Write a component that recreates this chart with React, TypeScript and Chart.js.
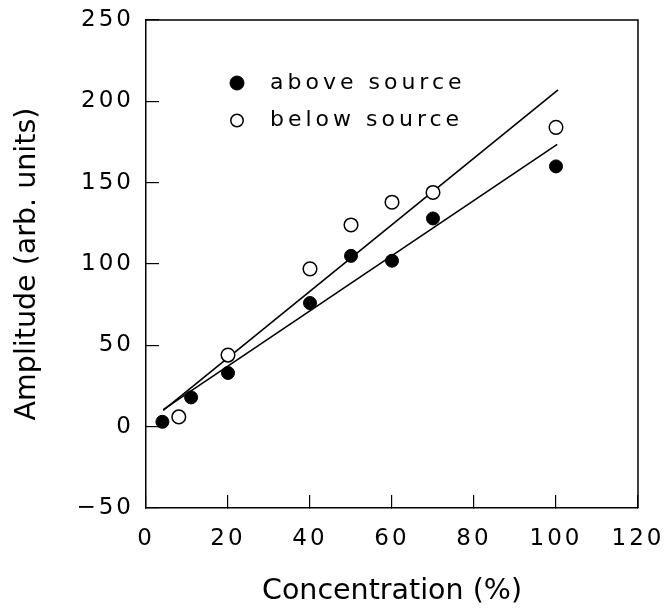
import React, { useEffect, useRef } from 'react';
import { Chart, registerables } from 'chart.js';

Chart.register(...registerables);

// ---- data ----
const aboveX = [4, 11, 20, 40, 50, 60, 70, 100];
const aboveY = [3, 18, 33, 76, 105, 102, 128, 160];
const belowX = [8, 20, 40, 50, 60, 70, 100];
const belowY = [6, 44, 97, 124, 138, 144, 184];
const aboveFitX = [4.2, 100.3];
const aboveFitY = [10.5, 173.5];
const belowFitX = [4.2, 100.5];
const belowFitY = [10, 207];
const seriesLabels = ['above source', 'below source'];
const xTitle = 'Concentration (%)';
const yTitle = 'Amplitude (arb. units)';
const xMin = 0;
const xMax = 120;
const xStep = 20;
const yMin = -50;
const yMax = 250;
const yStep = 50;

const FONT = 'DejaVu Sans';

const toPoints = (xs: number[], ys: number[]) => xs.map((x, i) => ({ x, y: ys[i] }));

const zeroPadding = (s: any) => {
  s.paddingLeft = 0;
  s.paddingRight = 0;
  s.paddingTop = 0;
  s.paddingBottom = 0;
};

const framePlugin = {
  id: 'frameAndLegend',
  beforeDraw(chart: any) {
    (chart.ctx as any).letterSpacing = '0px';
  },
  afterDatasetsDraw(chart: any) {
    // tick labels (z = 1) are drawn after this hook
    (chart.ctx as any).letterSpacing = '3px';
  },
  afterDraw(chart: any) {
    const ctx = chart.ctx as CanvasRenderingContext2D & { letterSpacing?: string };
    const ca = chart.chartArea;
    ctx.save();
    ctx.letterSpacing = '0px';
    // top and right edges of the frame
    ctx.strokeStyle = '#000';
    ctx.lineWidth = 1.5;
    ctx.beginPath();
    ctx.moveTo(ca.left, ca.top);
    ctx.lineTo(ca.right, ca.top);
    ctx.lineTo(ca.right, ca.bottom);
    ctx.stroke();

    // legend inside the plot
    const markerX = ca.left + 91;
    const textX = ca.left + 124;
    const firstY = ca.top + 63;
    const gap = 37.5;
    ctx.font = `22px "${FONT}"`;
    ctx.textBaseline = 'alphabetic';
    ctx.textAlign = 'left';
    [0, 1].forEach((di, row) => {
      const ds = chart.data.datasets[di];
      const cy = firstY + row * gap;
      ctx.beginPath();
      ctx.arc(markerX, cy, row === 0 ? 7 : 6.2, 0, Math.PI * 2);
      ctx.fillStyle = ds.pointBackgroundColor;
      ctx.fill();
      ctx.lineWidth = ds.pointBorderWidth;
      ctx.strokeStyle = ds.pointBorderColor;
      ctx.stroke();
      ctx.fillStyle = '#000';
      ctx.letterSpacing = '4px';
      ctx.fillText(ds.label, textX, cy + 5.8);
      ctx.letterSpacing = '0px';
    });
    ctx.restore();
  },
};

export default function App() {
  const ref = useRef<HTMLCanvasElement | null>(null);

  useEffect(() => {
    if (!ref.current) return;
    const chart = new Chart(ref.current, {
      type: 'scatter',
      data: {
        datasets: [
          {
            label: seriesLabels[0],
            data: toPoints(aboveX, aboveY),
            pointRadius: 6.5,
            pointBackgroundColor: '#000',
            pointBorderColor: '#000',
            pointBorderWidth: 1,
            showLine: false,
          },
          {
            label: seriesLabels[1],
            data: toPoints(belowX, belowY),
            pointRadius: 6.8,
            pointBackgroundColor: '#fff',
            pointBorderColor: '#000',
            pointBorderWidth: 1.5,
            showLine: false,
          },
          {
            label: 'fit above',
            data: toPoints(aboveFitX, aboveFitY),
            showLine: true,
            pointRadius: 0,
            borderColor: '#000',
            borderWidth: 1.6,
            fill: false,
          },
          {
            label: 'fit below',
            data: toPoints(belowFitX, belowFitY),
            showLine: true,
            pointRadius: 0,
            borderColor: '#000',
            borderWidth: 1.6,
            fill: false,
          },
        ],
      } as any,
      options: {
        responsive: false,
        animation: false,
        devicePixelRatio: 1,
        layout: { padding: { left: 0, top: 20, right: 28, bottom: 0 } },
        plugins: {
          legend: { display: false },
          tooltip: { enabled: false },
        },
        scales: {
          x: {
            type: 'linear',
            position: 'bottom',
            min: xMin,
            max: xMax,
            ticks: {
              stepSize: xStep,
              padding: 30,
              color: '#000',
              font: { family: FONT, size: 23 },
              z: 1,
              maxRotation: 0,
              autoSkip: false,
            },
            grid: {
              display: true,
              drawOnChartArea: false,
              drawTicks: true,
              tickLength: -13,
              color: '#000',
              lineWidth: 1.2,
            },
            border: { display: true, color: '#000', width: 1.5 },
            title: {
              display: true,
              text: xTitle,
              color: '#000',
              font: { family: FONT, size: 28.5 },
              padding: { top: 0, bottom: 0 },
            },
            afterFit: (s: any) => {
              s.height = 101;
              zeroPadding(s);
            },
          },
          y: {
            type: 'linear',
            position: 'left',
            min: yMin,
            max: yMax,
            ticks: {
              stepSize: yStep,
              padding: 25,
              color: '#000',
              font: { family: FONT, size: 23 },
              z: 1,
              autoSkip: false,
              callback: (v: any) => String(v).replace('-', '\u2212'),
            },
            grid: {
              display: true,
              drawOnChartArea: false,
              drawTicks: true,
              tickLength: -13,
              color: '#000',
              lineWidth: 1.2,
            },
            border: { display: true, color: '#000', width: 1.5 },
            title: {
              display: true,
              text: yTitle,
              color: '#000',
              font: { family: FONT, size: 28.5 },
              padding: { top: 10, bottom: 0 },
            },
            afterFit: (s: any) => {
              s.width = 146;
              zeroPadding(s);
            },
          },
        },
      } as any,
      plugins: [framePlugin],
    });
    return () => chart.destroy();
  }, []);

  return (
    <div style={{ position: 'fixed', left: 0, top: 0, width: 666, height: 609, background: '#fff' }}>
      <canvas ref={ref} width={666} height={609} style={{ display: 'block' }} />
    </div>
  );
}
